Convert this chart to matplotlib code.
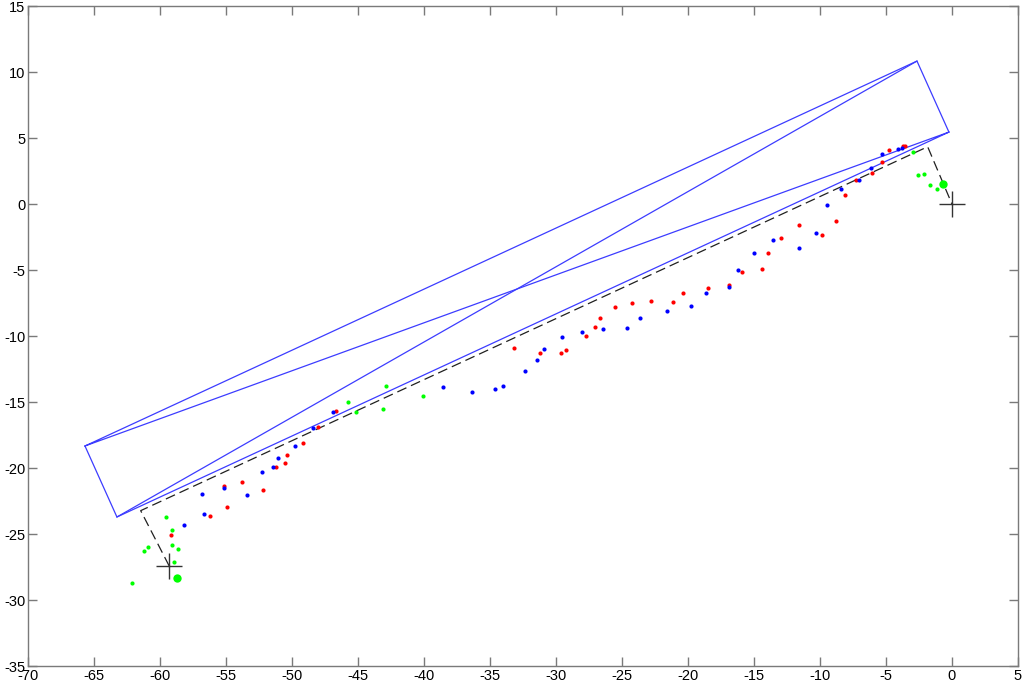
import numpy as np
import matplotlib
matplotlib.use('Agg')
import matplotlib.pyplot as plt

plt.rcParams['font.family'] = ['Liberation Sans', 'DejaVu Sans']
plt.rcParams['axes.unicode_minus'] = False

# blue rectangle (corners) and its diagonals
rect_x = [-65.68, -2.65, -0.23, -63.26, -65.68, -0.23]
rect_y = [-18.33, 10.83, 5.45, -23.71, -18.33, 5.45]
diag_x = [-63.26, -2.65]
diag_y = [-23.71, 10.83]

# dashed reference path
path_x = [-59.3, -61.46, -1.84, 0.0]
path_y = [-27.42, -23.23, 4.34, 0.0]

# crosses
cross_x = [0.0, -59.3]
cross_y = [0.0, -27.42]

# big green dots
big_x = [-58.7, -0.68]
big_y = [-28.33, 1.49]

red_x = [-46.69, -48.05, -49.19, -50.38, -50.50, -51.21, -55.17, -53.81, -52.2,
         -54.92, -56.21, -59.19, -33.18, -31.19, -29.62, -29.22, -27.73, -27.02,
         -26.69, -25.53, -24.22, -22.8, -21.16, -20.4, -18.46, -16.89, -15.91,
         -14.37, -13.96, -12.93, -11.62, -9.87, -8.79, -8.11, -7.30, -6.06, -5.33,
         -4.75, -3.71, -3.55]
red_y = [-15.68, -16.89, -18.13, -19.04, -19.62, -19.95, -21.36, -21.06, -21.63,
         -22.93, -23.64, -25.08, -10.87, -11.25, -11.25, -11.06, -10.02, -9.32,
         -8.60, -7.83, -7.50, -7.37, -7.42, -6.72, -6.39, -6.11, -5.15,
         -4.90, -3.71, -2.55, -1.57, -2.35, -1.26, 0.68, 1.79, 2.37, 3.16,
         4.11, 4.37, 4.40]

blue_x = [-46.87, -48.38, -49.77, -51.08, -52.27, -51.41, -55.17, -56.79, -53.43,
          -56.67, -58.16, -38.56, -36.34, -34.62, -34.04, -32.32, -31.42, -30.91,
          -29.57, -28.06, -26.44, -24.65, -23.67, -21.55, -19.8, -18.64, -16.89,
          -16.23, -15.0, -13.58, -11.57, -10.28, -9.47, -8.39, -7.02, -6.11,
          -5.33, -4.11, -3.79]
blue_y = [-15.73, -16.99, -18.33, -19.24, -20.28, -19.95, -21.48, -21.97, -22.08,
          -23.51, -24.34, -13.86, -14.24, -14.04, -13.79, -12.63, -11.84, -10.98,
          -10.10, -9.70, -9.47, -9.39, -8.60, -8.13, -7.71, -6.72, -6.31,
          -5.03, -3.71, -2.70, -3.33, -2.17, -0.10, 1.14, 1.84, 2.75,
          3.79, 4.19, 4.22]

green_x = [-45.78, -45.17, -42.9, -40.05, -43.11, -59.52, -59.07, -60.93, -61.21,
           -59.07, -58.61, -58.94, -62.12, -2.98, -2.55, -2.14, -1.64, -1.14]
green_y = [-15.02, -15.73, -13.79, -14.57, -15.53, -23.71, -24.70, -25.98, -26.31,
           -25.86, -26.11, -27.10, -28.71, 3.96, 2.17, 2.25, 1.46, 1.14]

fig = plt.figure(figsize=(10.24, 6.85), dpi=100)
ax = fig.add_axes([0.0273, 0.0277, 0.9668, 0.9635])

ax.plot(rect_x, rect_y, color='#3c3cff', lw=0.9)
ax.plot(diag_x, diag_y, color='#3c3cff', lw=0.9)
ax.plot(path_x, path_y, color='#202020', lw=0.9, linestyle=(0, (8, 4)))

ax.plot(red_x, red_y, 'o', color='#ff0000', ms=3.0, mec='none')
ax.plot(blue_x, blue_y, 'o', color='#0000ff', ms=3.0, mec='none')
ax.plot(green_x, green_y, 'o', color='#00ff00', ms=3.0, mec='none')
ax.plot(big_x, big_y, 'o', color='#00ff00', ms=6, mec='none')
ax.plot(cross_x, cross_y, '+', color='#333333', ms=19, mew=1)

ax.set_xlim(-70, 5)
ax.set_ylim(-35, 15)
ax.set_xticks(np.arange(-70, 6, 5))
ax.set_yticks(np.arange(-35, 16, 5))

for s in ax.spines.values():
    s.set_color('#7a7a7a')
    s.set_linewidth(1)
ax.tick_params(direction='in', length=6.5, width=1, color='#7a7a7a',
               labelsize=10.5, top=True, right=True, pad=2)

fig.savefig('out.png', dpi=100)
